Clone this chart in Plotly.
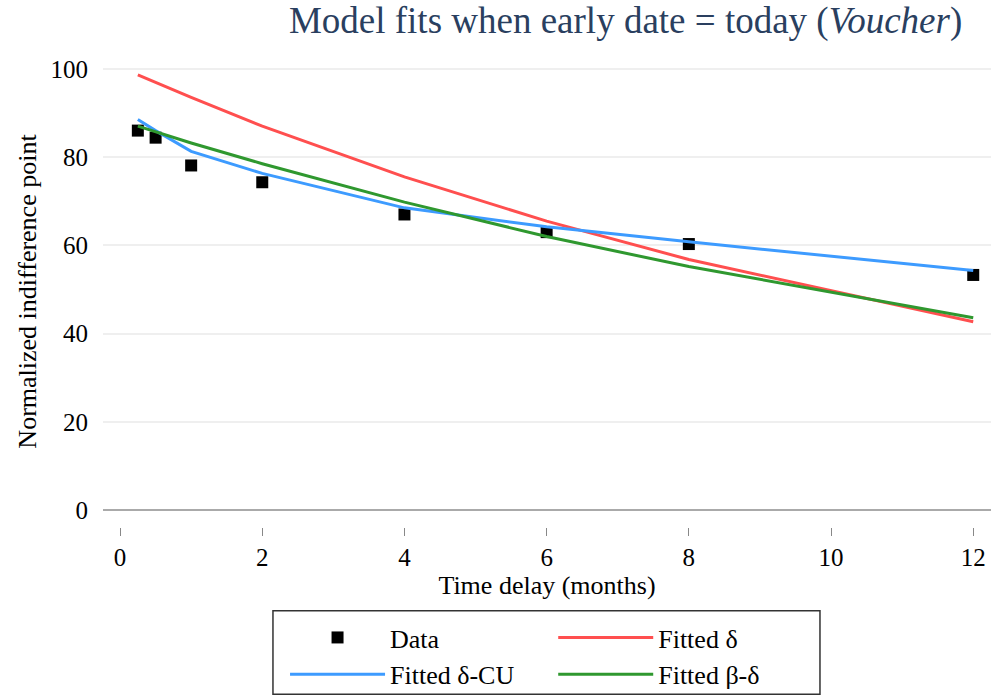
import plotly.graph_objects as go

months = [0.25, 0.5, 1, 2, 4, 6, 8, 12]
data_vals = [86.0, 84.4, 78.1, 74.3, 67.0, 63.0, 60.3, 53.3]
fit_delta = [98.6, 96.9, 93.5, 87.0, 75.5, 65.5, 56.8, 42.7]
fit_delta_cu = [88.5, 86.0, 81.3, 76.3, 68.5, 64.2, 60.8, 54.3]
fit_beta_delta = [87.0, 85.7, 83.2, 78.5, 69.8, 62.0, 55.2, 43.6]
x_ticks = [0, 2, 4, 6, 8, 10, 12]
y_ticks = [0, 20, 40, 60, 80, 100]

FONT = "Liberation Serif"
RED = "#ff4f4f"
BLUE = "#3d9bff"
GREEN = "#2f982f"

fig = go.Figure()
fig.add_trace(go.Scatter(x=months, y=data_vals, mode="markers", name="Data",
                         marker=dict(symbol="square", size=12, color="black"),
                         legend="legend"))
fig.add_trace(go.Scatter(x=months, y=fit_delta, mode="lines", name="Fitted δ",
                         line=dict(color=RED, width=3), legend="legend2"))
fig.add_trace(go.Scatter(x=months, y=fit_delta_cu, mode="lines", name="Fitted δ-CU",
                         line=dict(color=BLUE, width=3), legend="legend3"))
fig.add_trace(go.Scatter(x=months, y=fit_beta_delta, mode="lines", name="Fitted β-δ",
                         line=dict(color=GREEN, width=3), legend="legend4"))

leg_common = dict(orientation="v", yanchor="middle", xanchor="left",
                  font=dict(family=FONT, size=26, color="black"),
                  bgcolor="rgba(0,0,0,0)", borderwidth=0, itemwidth=95,
                  tracegroupgap=0)

ROW1 = -0.2347
ROW2 = -0.3129
COL1 = 0.205
COL2 = 0.507

fig.update_layout(
    width=993, height=700,
    margin=dict(l=103, r=2, t=56, b=171),
    paper_bgcolor="white", plot_bgcolor="white",
    font=dict(family=FONT, size=25, color="black"),
    title=dict(text="Model fits when early date = today (<i>Voucher</i>)",
               x=0.63, xanchor="center", y=0.99, yanchor="top",
               font=dict(family=FONT, size=37, color="#2a3f5f")),
    xaxis=dict(range=[-0.24, 12.25], tickvals=x_ticks, ticks="outside",
               ticklen=8, tickcolor="#888888", tickwidth=1,
               showgrid=False, zeroline=False, showline=False,
               title=dict(text="Time delay (months)", standoff=0,
                          font=dict(family=FONT, size=26)),
               tickfont=dict(family=FONT, size=25)),
    yaxis=dict(range=[-3.8, 102.9], tickvals=y_ticks, showgrid=True,
               gridcolor="#efefef", gridwidth=1.5,
               zeroline=True, zerolinecolor="#aaaaaa", zerolinewidth=1.5,
               showline=False, ticks="", ticklabelstandoff=14,
               title=dict(text="Normalized indifference point", standoff=6,
                          font=dict(family=FONT, size=26)),
               tickfont=dict(family=FONT, size=25)),
    legend=dict(x=COL1, y=ROW1, **leg_common),
    legend2=dict(x=COL2, y=ROW1, **leg_common),
    legend3=dict(x=COL1, y=ROW2, **leg_common),
    legend4=dict(x=COL2, y=ROW2, **leg_common),
    shapes=[dict(type="rect", xref="paper", yref="paper",
                 x0=0.1914, x1=0.8074, y0=-0.355, y1=-0.1776,
                 line=dict(color="#333333", width=1.5))],
    showlegend=True,
)

fig.write_html("out.html")
